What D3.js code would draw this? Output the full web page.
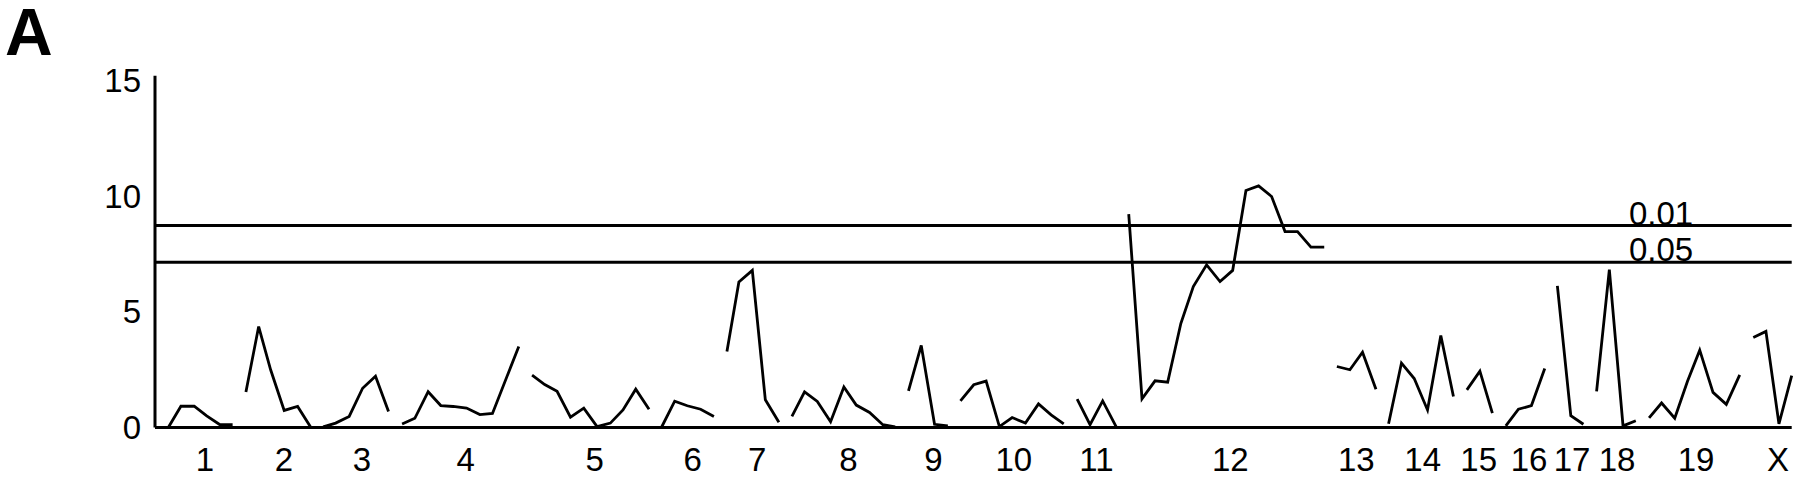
<!DOCTYPE html>
<html>
<head>
<meta charset="utf-8">
<script src="https://cdn.jsdelivr.net/npm/d3@7/dist/d3.min.js"></script>
<style>
  html, body { margin: 0; padding: 0; background: #fff; }
  svg { display: block; }
  text { font-family: "Liberation Sans", Arial, Helvetica, sans-serif; fill: #000; }
</style>
</head>
<body>
<svg id="chart" width="1800" height="479"></svg>
<script>
// ---- Data (genome map position in cM, LOD score) ----
const chromosomes = ["1","2","3","4","5","6","7","8","9","10","11","12","13","14","15","16","17","18","19","X"];
const chrLabelPos = [37.6, 97, 155.6, 233.8, 330.8, 404.5, 453, 521.8, 585.7, 646.2, 708.3, 809, 903.8, 953.8, 995.9, 1033.8, 1066.2, 1100, 1159.4, 1221.1];

const markerPos = [
  [10.0, 19.5, 29.5, 38.9, 48.9, 58.4],
  [68.4, 78.0, 87.0, 97.2, 107.3, 117.3],
  [126.5, 135.9, 146.1, 156.2, 165.9, 175.7],
  [185.9, 195.5, 205.5, 215.0, 224.3, 234.4, 244.4, 253.9, 273.7],
  [283.7, 293.2, 302.5, 312.6, 322.6, 332.6, 342.6, 352.1, 361.7, 371.7],
  [381.0, 391.0, 400.5, 410.5, 420.5],
  [430.3, 439.3, 449.4, 459.2, 469.4],
  [479.2, 488.7, 498.3, 508.3, 518.3, 527.6, 537.6, 547.6, 556.9],
  [566.9, 576.5, 586.5, 596.5],
  [606.0, 616.0, 625.3, 635.3, 644.9, 654.9, 664.7, 674.2, 683.7],
  [693.8, 703.5, 713.0, 723.1],
  [732.6, 742.6, 752.4, 761.9, 771.8, 781.2, 791.2, 801.3, 810.8, 820.8, 830.3, 840.1, 850.2, 859.6, 869.7, 879.7],
  [889.2, 899.0, 908.5, 918.6],
  [928.1, 937.8, 947.4, 957.4, 967.4, 976.9],
  [987.0, 996.8, 1006.2],
  [1016.3, 1025.8, 1035.6, 1045.6],
  [1055.1, 1065.2, 1074.7],
  [1084.6, 1094.2, 1104.5, 1114.1],
  [1124.1, 1133.5, 1143.4, 1153.0, 1162.2, 1172.2, 1182.2, 1192.3],
  [1202.5, 1212.0, 1221.8, 1231.4]
];

const lodScores = [
  [0, 0.92, 0.92, 0.5, 0.12, 0.12],
  [1.54, 4.37, 2.5, 0.74, 0.91, 0],
  [0.03, 0.19, 0.48, 1.70, 2.22, 0.69],
  [0.15, 0.40, 1.55, 0.95, 0.91, 0.84, 0.56, 0.61, 3.51],
  [2.27, 1.86, 1.57, 0.45, 0.84, 0.04, 0.19, 0.76, 1.66, 0.79],
  [0, 1.14, 0.94, 0.79, 0.48],
  [3.29, 6.30, 6.80, 1.20, 0.23],
  [0.48, 1.54, 1.13, 0.25, 1.75, 0.97, 0.65, 0.12, 0.03],
  [1.59, 3.55, 0.14, 0.07],
  [1.15, 1.85, 2.01, 0.04, 0.43, 0.19, 1.02, 0.55, 0.16],
  [1.23, 0.12, 1.15, 0.04],
  [9.24, 1.24, 2.02, 1.96, 4.50, 6.10, 7.04, 6.32, 6.80, 10.26, 10.46, 10.0, 8.48, 8.48, 7.81, 7.81],
  [2.64, 2.50, 3.26, 1.66],
  [0.16, 2.79, 2.12, 0.76, 3.98, 1.34],
  [1.63, 2.44, 0.62],
  [0.07, 0.79, 0.95, 2.55],
  [6.13, 0.51, 0.14],
  [1.56, 6.83, 0.07, 0.29],
  [0.42, 1.06, 0.40, 2.0, 3.35, 1.52, 1.0, 2.28],
  [3.90, 4.16, 0.16, 2.25]
];

const yTicks = [0, 5, 10, 15];
const thresholds = [8.74, 7.15];
const thresholdLabels = ["0.01", "0.05"];
const thresholdLabelPos = 1109;
const panelLabel = "A";
const genomeLength = 1231.4;
const yMax = 15;

// ---- Drawing ----
const svg = d3.select("#chart");
const x = d3.scaleLinear().domain([0, genomeLength]).range([155, 1791.7]);
const y = d3.scaleLinear().domain([0, yMax]).range([427.5, 81]);

// panel label
svg.append("text")
  .attr("x", 5).attr("y", 55)
  .style("font-size", "66px").style("font-weight", "bold")
  .text(panelLabel);

// y axis line
svg.append("line")
  .attr("x1", x(0)).attr("x2", x(0))
  .attr("y1", y(15.23)).attr("y2", y(0))
  .attr("stroke", "#000").attr("stroke-width", 3);

// baseline
svg.append("line")
  .attr("x1", x(0)).attr("x2", x(genomeLength))
  .attr("y1", y(0)).attr("y2", y(0))
  .attr("stroke", "#000").attr("stroke-width", 3);

// y tick labels
svg.selectAll("text.ytick").data(yTicks).enter().append("text")
  .attr("class", "ytick")
  .attr("x", 141)
  .attr("y", d => y(d) + 11)
  .attr("text-anchor", "end")
  .style("font-size", "33px")
  .text(d => d);

// thresholds
thresholds.forEach((t, i) => {
  svg.append("line")
    .attr("x1", x(0)).attr("x2", x(genomeLength))
    .attr("y1", y(t)).attr("y2", y(t))
    .attr("stroke", "#000").attr("stroke-width", 3);
  svg.append("text")
    .attr("x", x(thresholdLabelPos))
    .attr("y", y(t) - 1)
    .style("font-size", "33px")
    .text(thresholdLabels[i]);
});

// chromosome labels
svg.selectAll("text.chr").data(chromosomes).enter().append("text")
  .attr("class", "chr")
  .attr("x", (d, i) => x(chrLabelPos[i]))
  .attr("y", 471)
  .attr("text-anchor", "middle")
  .style("font-size", "33px")
  .text(d => d);

// LOD curves
const line = d3.line().x(d => x(d[0])).y(d => y(d[1]));
chromosomes.forEach((c, i) => {
  const pts = markerPos[i].map((p, j) => [p, lodScores[i][j]]);
  svg.append("path")
    .datum(pts)
    .attr("d", line)
    .attr("fill", "none")
    .attr("stroke", "#000")
    .attr("stroke-width", 2.8)
    .attr("stroke-linejoin", "miter");
});
</script>
</body>
</html>
